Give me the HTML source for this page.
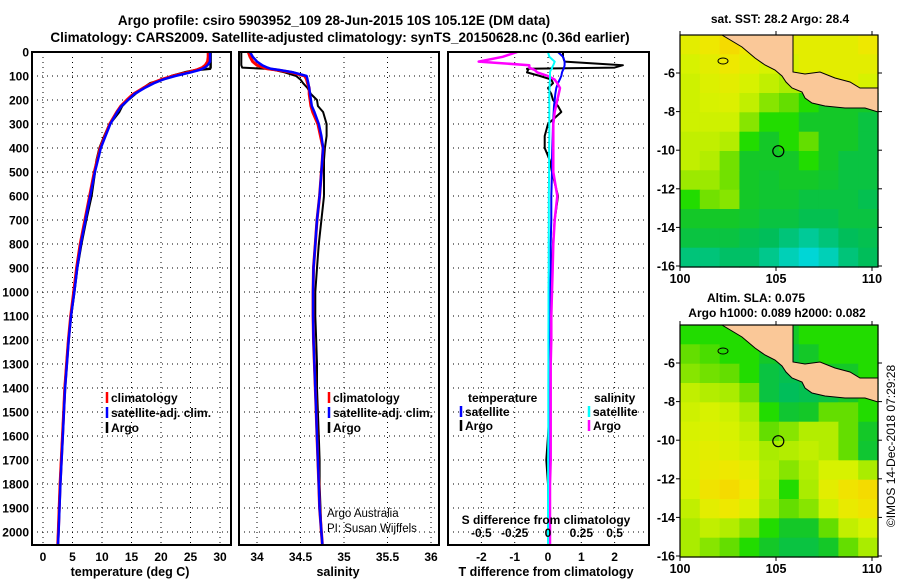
<!DOCTYPE html>
<html><head><meta charset="utf-8">
<style>
html,body{margin:0;padding:0;background:#fff;}
svg{display:block;font-family:"Liberation Sans",Arial,sans-serif;}
.b{font-weight:bold;}
</style></head>
<body>
<svg id="chart" width="900" height="580" viewBox="0 0 900 580" xmlns="http://www.w3.org/2000/svg">
<rect x="0" y="0" width="900" height="580" fill="#fff"/>
<text class="b" x="334" y="25" font-size="13.5" text-anchor="middle">Argo profile: csiro 5903952_109 28-Jun-2015 10S 105.12E (DM data)</text>
<text class="b" x="340" y="42" font-size="13.5" text-anchor="middle">Climatology: CARS2009. Satellite-adjusted climatology: synTS_20150628.nc (0.36d earlier)</text>
<g id="g"></g>
</svg>
<script>
// ---------- data ----------
const depths = [0,20,40,55,65,70,75,85,100,115,130,150,175,200,225,250,300,350,400,450,500,600,700,800,900,1000,1100,1200,1300,1400,1500,1600,1700,1800,1900,2000,2050];
const tClim = [28.0,28.0,27.9,27.5,27.0,26.5,26.0,24.5,22.0,20.0,18.5,17.0,15.3,14.2,13.2,12.5,11.3,10.5,9.7,9.2,8.7,7.9,7.1,6.3,5.7,5.2,4.7,4.3,4.0,3.7,3.5,3.3,3.1,2.9,2.75,2.6,2.5];
const tSat = [28.3,28.3,28.3,27.9,27.4,27.0,26.5,25.0,22.4,20.3,18.8,17.2,15.5,14.4,13.3,12.6,11.4,10.6,9.8,9.3,8.8,8.0,7.2,6.4,5.8,5.3,4.75,4.35,4.05,3.75,3.55,3.35,3.15,2.95,2.8,2.65,2.55];
const tArgo = [28.4,28.4,28.4,28.4,28.4,28.3,26.0,24.0,21.8,20.3,18.2,17.0,15.6,14.4,13.4,12.9,11.3,10.4,9.6,9.1,8.8,8.2,7.3,6.5,5.8,5.3,4.75,4.3,4.0,3.7,3.5,3.3,3.1,2.9,2.75,2.6,2.5];
const sClim = [33.9,33.92,33.95,34.0,34.08,34.12,34.23,34.4,34.55,34.57,34.58,34.6,34.6,34.61,34.62,34.64,34.7,34.73,34.76,34.75,34.74,34.72,34.69,34.67,34.65,34.645,34.645,34.65,34.66,34.67,34.68,34.69,34.7,34.71,34.72,34.74,34.75];
const sSat = [33.92,33.95,34.0,34.06,34.12,34.16,34.26,34.42,34.57,34.58,34.59,34.6,34.61,34.62,34.63,34.66,34.71,34.74,34.76,34.75,34.74,34.72,34.69,34.67,34.65,34.645,34.645,34.65,34.66,34.67,34.68,34.69,34.7,34.71,34.72,34.74,34.75];
const sArgo = [33.82,33.82,33.82,33.82,33.83,34.1,34.2,34.32,34.45,34.5,34.53,34.58,34.62,34.69,34.7,34.76,34.8,34.8,34.78,34.77,34.77,34.77,34.74,34.71,34.69,34.67,34.67,34.68,34.69,34.69,34.7,34.71,34.72,34.72,34.73,34.74,34.75];
const dtArgo = [0.45,0.45,0.5,2.25,2.0,-0.63,-0.6,-0.63,-0.24,0.1,0.15,0.0,0.1,0.15,0.3,0.4,0.0,-0.1,-0.1,0.05,0.12,0.3,0.2,0.15,0.12,0.1,0.08,0.06,0.06,0.05,0.04,0.0,-0.05,0.0,0.0,0.0,0.0];
const dtSat = [0.3,0.45,0.5,0.5,0.48,0.47,0.45,0.42,0.4,0.35,0.3,0.25,0.22,0.2,0.18,0.17,0.15,0.14,0.13,0.12,0.12,0.1,0.1,0.08,0.08,0.07,0.07,0.06,0.06,0.05,0.05,0.05,0.04,0.04,0.03,0.03,0.03];
const dsArgo = [-0.23,-0.34,-0.52,-0.14,-0.14,-0.12,-0.1,-0.08,0.0,0.05,0.07,0.09,0.08,0.07,0.06,0.05,0.04,0.04,0.04,0.04,0.04,0.07,0.05,0.04,0.035,0.03,0.025,0.025,0.02,0.02,0.02,0.02,0.02,0.015,0.015,0.015,0.015];
const dsSat = [0.0,0.01,0.05,0.04,0.03,0.03,0.02,0.015,0.015,0.015,0.012,0.012,0.01,0.01,0.01,0.01,0.01,0.01,0.008,0.008,0.008,0.006,0.006,0.005,0.005,0.004,0.004,0.003,0.003,0.002,0.002,0.002,0.001,0.001,0.0,0.0,0.0];
const depthTicks = [0,100,200,300,400,500,600,700,800,900,1000,1100,1200,1300,1400,1500,1600,1700,1800,1900,2000];
const tTicks = [0,5,10,15,20,25,30];
const sTicks = [34,34.5,35,35.5,36];
const sTickLabels = ["34","34.5","35","35.5","36"];
const dTicks = [-2,-1,0,1,2];
const dsTicks = [-0.5,-0.25,0,0.25,0.5];
const dsTickLabels = ["-0.5","-0.25","0","0.25","0.5"];
const mapLatTicks = [-6,-8,-10,-12,-14,-16];
const mapLonTicks = [100,105,110];
const sstGrid = [
[0.85,0.9,0.95,0.9,0.9,0.85,0.85,0.85,0.85,0.9],
[0.8,0.85,0.9,0.85,0.8,0.8,0.85,0.85,0.85,0.85],
[0.78,0.82,0.85,0.8,0.75,0.7,0.7,0.85,0.85,0.8],
[0.78,0.8,0.82,0.75,0.65,0.6,0.55,0.5,0.5,0.5],
[0.78,0.78,0.78,0.65,0.55,0.55,0.5,0.5,0.5,0.45],
[0.75,0.75,0.72,0.55,0.5,0.55,0.6,0.5,0.5,0.45],
[0.75,0.72,0.62,0.5,0.5,0.5,0.55,0.5,0.45,0.45],
[0.68,0.68,0.62,0.5,0.48,0.5,0.5,0.48,0.45,0.45],
[0.55,0.62,0.65,0.5,0.48,0.48,0.45,0.45,0.45,0.42],
[0.5,0.5,0.5,0.48,0.45,0.45,0.42,0.42,0.45,0.45],
[0.45,0.45,0.45,0.42,0.4,0.35,0.3,0.35,0.4,0.42],
[0.35,0.35,0.38,0.38,0.32,0.25,0.2,0.25,0.35,0.4]];
const slaGrid = [
[0.55,0.55,0.55,0.55,0.5,0.5,0.55,0.55,0.55,0.55],
[0.6,0.58,0.55,0.55,0.5,0.45,0.5,0.55,0.55,0.55],
[0.65,0.62,0.6,0.55,0.45,0.42,0.45,0.5,0.5,0.55],
[0.75,0.72,0.7,0.62,0.45,0.4,0.42,0.45,0.5,0.55],
[0.78,0.8,0.78,0.7,0.55,0.48,0.5,0.6,0.6,0.55],
[0.8,0.82,0.8,0.75,0.6,0.65,0.72,0.72,0.6,0.5],
[0.82,0.85,0.82,0.78,0.7,0.72,0.75,0.72,0.6,0.48],
[0.82,0.88,0.9,0.85,0.72,0.65,0.72,0.8,0.8,0.7],
[0.8,0.92,0.95,0.9,0.7,0.55,0.7,0.85,0.92,0.95],
[0.75,0.85,0.9,0.82,0.68,0.6,0.65,0.78,0.88,0.92],
[0.7,0.75,0.72,0.65,0.55,0.5,0.5,0.6,0.75,0.8],
[0.7,0.65,0.6,0.55,0.5,0.45,0.45,0.5,0.6,0.7]];
const floatLon = 105.12, floatLat = -10.05;

// ---------- helpers ----------
const NS = "http://www.w3.org/2000/svg";
const G = document.getElementById('g');
function mk(tag, attrs, parent){const e=document.createElementNS(NS,tag);for(const k in attrs)e.setAttribute(k,attrs[k]);(parent||G).appendChild(e);return e;}
function txt(s, attrs){const e=mk('text',attrs);e.textContent=s;return e;}
const yD = d => 52 + 0.24*d;
const xT = t => 43 + 5.9*t;
const xS = s => 257 + 87*(s-34);
const xDT = d => 548 + 33.3*d;
const xDS = d => 548 + 133.3*d;
const TOP=52, BOT=545;

function panel(x0,x1,name){
  depthTicks.forEach(d=>{ if(d===0) return;
    const l=mk('line',{x1:x0,x2:x1,y1:yD(d),y2:yD(d),stroke:'#000','stroke-width':1,'stroke-dasharray':'1 4'});
    
    
  });
}
function vgrid(x,name){
  const l=mk('line',{x1:x,x2:x,y1:TOP,y2:BOT,stroke:'#000','stroke-width':1,'stroke-dasharray':'1 4'});
  
  
}
function frame(x0,x1,name){
  const r=mk('rect',{x:x0,y:TOP,width:x1-x0,height:BOT-TOP,fill:'none',stroke:'#000','stroke-width':2});
  
  
}
function profile(xs, fx, color, w, name, x0, x1){
  const pts=[];
  for(let i=0;i<depths.length;i++){
    const x=Math.max(x0,Math.min(x1,fx(xs[i])));
    pts.push(x.toFixed(1)+','+yD(depths[i]).toFixed(1));
  }
  const p=mk('polyline',{points:pts.join(' '),fill:'none',stroke:color,'stroke-width':w,'stroke-linejoin':'round'});
  
  
}
function legendItem(x,y,color,label,name){
  const l=mk('line',{x1:x,x2:x,y1:y-10,y2:y+1,stroke:color,'stroke-width':2.5});
  
  
  const t=txt(label,{x:x+4,y:y,'font-size':12,'font-weight':'bold'});
  
  
}

// ---------- panel 1: temperature ----------
panel(32,231,'temp');
tTicks.forEach(t=>{vgrid(xT(t),'temp-vgrid');
  const lb=txt(String(t),{x:xT(t),y:561,'font-size':12,'font-weight':'bold','text-anchor':'middle'});
  
  
});
depthTicks.forEach(d=>{
  const lb=txt(String(d),{x:29,y:yD(d)+4.5,'font-size':12,'font-weight':'bold','text-anchor':'end'});
  
  
});
profile(tArgo,xT,'#000',2.5,'temp-argo-line',32,231);
profile(tClim,xT,'#f00',3,'temp-climatology-line',32,231);
profile(tSat,xT,'#00f',2.5,'temp-satellite-line',32,231);
frame(32,231,'temp-plot-frame');
legendItem(107,402,'#f00','climatology','temp-legend-climatology');
legendItem(107,417,'#00f','satellite-adj. clim.','temp-legend-satellite');
legendItem(107,432,'#000','Argo','temp-legend-argo');
{const t=txt('temperature (deg C)',{x:130,y:576,'font-size':12.5,'font-weight':'bold','text-anchor':'middle'});
}

// ---------- panel 2: salinity ----------
panel(239,439,'sal');
sTicks.forEach((s,i)=>{vgrid(xS(s),'sal-vgrid');
  const lb=txt(sTickLabels[i],{x:xS(s),y:561,'font-size':12,'font-weight':'bold','text-anchor':'middle'});
  
  
});
profile(sArgo,xS,'#000',2,'sal-argo-line',239,439);
profile(sClim,xS,'#f00',3,'sal-climatology-line',239,439);
profile(sSat,xS,'#00f',2.5,'sal-satellite-line',239,439);
frame(239,439,'sal-plot-frame');
legendItem(329,402,'#f00','climatology','sal-legend-climatology');
legendItem(329,417,'#00f','satellite-adj. clim.','sal-legend-satellite');
legendItem(329,432,'#000','Argo','sal-legend-argo');
{const t=txt('Argo Australia',{x:327,y:517,'font-size':11.5});
const t2=txt('PI: Susan Wijffels',{x:327,y:532,'font-size':11.5});
const t3=txt('salinity',{x:338,y:576,'font-size':12.5,'font-weight':'bold','text-anchor':'middle'});}

// ---------- panel 3: differences ----------
panel(448,649,'diff');
dTicks.forEach(d=>{vgrid(xDT(d),'diff-vgrid');
  const lb=txt(String(d),{x:xDT(d),y:561,'font-size':12,'font-weight':'bold','text-anchor':'middle'});
  
  
});
profile(dtArgo,xDT,'#000',2,'t-diff-argo-line',448,649);
profile(dtSat,xDT,'#00f',2,'t-diff-satellite-line',448,649);
profile(dsArgo,xDS,'#f0f',2.5,'s-diff-argo-line',448,649);
profile(dsSat,xDS,'#0ff',2,'s-diff-satellite-line',448,649);
frame(448,649,'diff-plot-frame');
{const t=txt('temperature',{x:468,y:402,'font-size':12,'font-weight':'bold'});}
legendItem(461,416,'#00f','satellite','diff-legend-t-satellite');
legendItem(461,430,'#000','Argo','diff-legend-t-argo');
{const t=txt('salinity',{x:594,y:402,'font-size':12,'font-weight':'bold'});}
legendItem(589,416,'#0ff','satellite','diff-legend-s-satellite');
legendItem(589,430,'#f0f','Argo','diff-legend-s-argo');
{const t=txt('S difference from climatology',{x:546,y:524,'font-size':12,'font-weight':'bold','text-anchor':'middle'});}
dsTicks.forEach((d,i)=>{
  const lb=txt(dsTickLabels[i],{x:xDS(d),y:537,'font-size':12,'font-weight':'bold','text-anchor':'middle'});
  
  
});
{const t=txt('T difference from climatology',{x:546,y:576,'font-size':12.5,'font-weight':'bold','text-anchor':'middle'});}

// ---------- maps ----------
const stops=[[0.2,[0,214,214]],[0.4,[0,190,90]],[0.5,[20,200,40]],[0.55,[34,220,0]],[0.6,[100,222,0]],[0.7,[170,236,0]],[0.8,[215,242,0]],[0.9,[238,232,0]],[1.0,[250,205,0]]];
function cmap(v){
  if(v<=stops[0][0]) return 'rgb('+stops[0][1]+')';
  for(let i=1;i<stops.length;i++){ if(v<=stops[i][0]){
    const a=stops[i-1],b=stops[i],f=(v-a[0])/(b[0]-a[0]);
    return 'rgb('+a[1].map((c,k)=>Math.round(c+(b[1][k]-c)*f)).join(',')+')';}}
  return 'rgb('+stops[stops.length-1][1]+')';
}
function drawMap(top, grid, name){
  const L=680,R=878,B=top+232;
  const lonX = lon => 680 + (lon-100)*19.2;
  const latY = lat => top + 38 + (-6-lat)*19.3;
  const nr=grid.length,nc=grid[0].length, cw=(R-L)/nc, ch=(B-top)/nr;
  grid.forEach((row,r)=>row.forEach((v,c)=>{
    const cell=mk('rect',{x:(L+c*cw).toFixed(1),y:(top+r*ch).toFixed(1),width:(cw+0.6).toFixed(1),height:(ch+0.6).toFixed(1),fill:cmap(v)});
    
    
  }));
  const o=top-35;
  const land=[[722,35],[793,35],[793,72],[805,74],[820,72],[835,78],[850,82],[860,88],[878,88],[878,112],[865,108],[845,108],[825,106],[812,103],[805,98],[802,92],[792,88],[786,82],[782,76],[775,70],[765,65],[755,58],[742,47]];
  const lp=mk('polygon',{points:land.map(p=>p[0]+','+(p[1]+o)).join(' '),fill:'#fac898',stroke:'#000','stroke-width':1});
  
  
  const isl=mk('ellipse',{cx:723,cy:61+o,rx:5,ry:3,fill:'none',stroke:'#000','stroke-width':1});
  
  
  const fl=mk('circle',{cx:lonX(floatLon),cy:latY(floatLat),r:5.5,fill:'none',stroke:'#000','stroke-width':1.2});
  
  
  const fr=mk('rect',{x:L,y:top,width:R-L,height:B-top,fill:'none',stroke:'#000','stroke-width':1.2});
  
  
  mapLatTicks.forEach(lat=>{
    const y=latY(lat);
    const t=txt(String(lat),{x:675,y:y+4.5,'font-size':12.5,'font-weight':'bold','text-anchor':'end'});
    
    
    mk('line',{x1:L-4,x2:L,y1:y,y2:y,stroke:'#000'});
    mk('line',{x1:R,x2:R+4,y1:y,y2:y,stroke:'#000'});
  });
  mapLonTicks.forEach(lon=>{
    const x=lonX(lon);
    const t=txt(String(lon),{x:x,y:B+16,'font-size':12.5,'font-weight':'bold','text-anchor':'middle'});
    
    
    mk('line',{x1:x,x2:x,y1:B,y2:B+4,stroke:'#000'});
    mk('line',{x1:x,x2:x,y1:top-4,y2:top,stroke:'#000'});
  });
}
drawMap(35, sstGrid, 'sst-map');
drawMap(325, slaGrid, 'sla-map');
{const t=txt('sat. SST: 28.2 Argo: 28.4',{x:780,y:23,'font-size':12,'font-weight':'bold','text-anchor':'middle'});
const t2=txt('Altim. SLA: 0.075',{x:756,y:302,'font-size':12,'font-weight':'bold','text-anchor':'middle'});
const t3=txt('Argo h1000: 0.089 h2000: 0.082',{x:777,y:317,'font-size':12,'font-weight':'bold','text-anchor':'middle'});
const t4=txt('©IMOS 14-Dec-2018 07:29:28',{x:0,y:0,'font-size':12,'text-anchor':'middle',transform:'translate(895,446) rotate(-90)'});}
</script>
</body></html>
